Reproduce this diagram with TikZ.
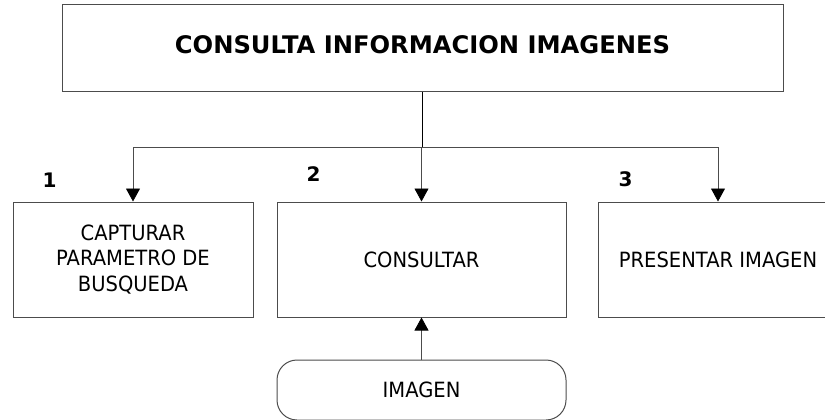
\documentclass[tikz,border=0pt]{standalone}
\usepackage{fontspec}
\setmainfont{DejaVu Sans}[FakeStretch=0.93]
\newfontfamily\titlefont{DejaVu Sans Bold}
\usetikzlibrary{arrows.meta, positioning}

\begin{document}
\begin{tikzpicture}[
        x=1pt, y=-1pt,
        box/.style={draw=black!70, line width=1pt, minimum height=115pt, inner sep=0pt,
            align=center, font=\fontsize{21}{25.5}\selectfont},
        store/.style={box, rounded corners=20pt, minimum height=60pt},
        number/.style={font=\titlefont\fontsize{20}{22}\selectfont},
        arrow/.style={-{Triangle[width=14pt, length=13pt, color=black]}, line width=0.8pt, draw=black!70},
        line/.style={line width=1.2pt}
    ]
        \useasboundingbox (0,0) rectangle (825,420);

        % Nodes
        \node[box, minimum width=721pt, minimum height=87pt, text depth=8pt,
            font=\titlefont\fontsize{24.2}{26}\selectfont] (consulta) at (422.5,48.5) {CONSULTA INFORMACION IMAGENES};
        \node[box, minimum width=240pt] (capturar) at (133,259.5) {CAPTURAR\\PARAMETRO DE\\BUSQUEDA};
        \node[box, minimum width=289pt] (consultar) at (421.5,259.5) {CONSULTAR};
        \node[box, minimum width=240pt] (presentar) at (718,259.5) {PRESENTAR IMAGEN};
        \node[store, minimum width=289pt, below=42pt of consultar] (imagen) {IMAGEN};

        % Numbers
        \node[number] (num1) at (49.5,180) {1};
        \node[number] (num2) at (313.5,174.5) {2};
        \node[number] (num3) at (625.5,179.5) {3};

        % Lines
        \coordinate (split) at (422.5,147);
        \draw[line] (consulta.south) -- (split);
        \draw[arrow] (split) -| (capturar.north);
        \draw[arrow] (split -| consultar.north) -- (consultar.north);
        \draw[arrow] (split) -| (presentar.north);
        \draw[arrow] (imagen) -- (consultar);
    \end{tikzpicture}
\end{document}
